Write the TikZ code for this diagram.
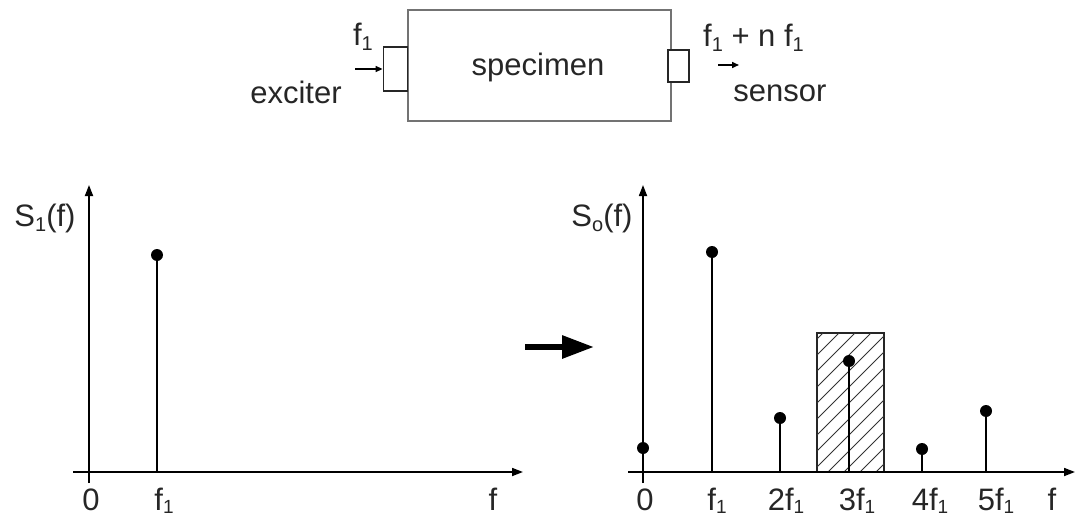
\documentclass[tikz,border=0pt]{standalone}
\usepackage{fontspec}
\setmainfont{Liberation Sans}
\usetikzlibrary{arrows.meta}
\newcommand{\lo}[1]{\raisebox{-5pt}{\fontsize{20}{20}\selectfont #1}}
\newcommand{\lob}[1]{\raisebox{-3.5pt}{\fontsize{19}{19}\selectfont #1}}
\begin{document}
\begin{tikzpicture}[x=1pt,y=-1pt,
  every node/.style={font=\fontsize{31}{34}\selectfont, inner sep=0pt, text=black!85},
  axis/.style={line width=1.7pt, -{Triangle[length=11pt,width=8pt]}},
  stem/.style={line width=1.7pt},
  dot/.style={circle, fill=black, inner sep=0pt, minimum size=12pt},
  smallarrow/.style={line width=1.5pt, -{Triangle[length=7pt,width=6pt]}},
  port/.style={draw=black!85, line width=1.8pt, fill=white}]
\useasboundingbox (0,0) rectangle (1079,519);
% ---------- top block ----------
\node[draw=black!55, line width=1.8pt, minimum width=263pt, minimum height=111pt] (spec) at (539.5,65.5) {};
\node[anchor=base] (spectxt) at (538,76) {specimen};
\node[port, minimum width=24pt, minimum height=44pt] (exc) at (395.5,69) {};
\node[port, minimum width=21pt, minimum height=32pt] (sen) at (678.5,66) {};
\coordinate (ea) at (355,69);
\draw[smallarrow] (ea) -- (exc.west);
\node[anchor=base] (f1in) at (363,46) {f\lo{1}};
\node[anchor=base] (exctxt) at (296,103) {exciter};
\coordinate (sa) at (718,65);
\coordinate (sb) at (739,65);
\draw[smallarrow] (sa) -- (sb);
\node[anchor=base west] (fout) at (703,47) {f\lo{1} + n f\lo{1}};
\node[anchor=base] (sentxt) at (780,101) {sensor};
% ---------- left spectrum ----------
\coordinate (lx0) at (73,472);
\coordinate (lx1) at (523,472);
\coordinate (ly0) at (89,483);
\coordinate (ly1) at (89,185);
\draw[axis] (lx0) -- (lx1);
\draw[axis] (ly0) -- (ly1);
\node[anchor=base] (s1) at (45,226) {S\lo{1}(f)};
\coordinate (lb1) at (157,472);
\node[dot] (ld1) at (157,255) {};
\draw[stem] (lb1) -- (ld1.center);
\node[anchor=base] (l0) at (91,510) {0};
\node[anchor=base] (lf1) at (164,510) {f\lob{1}};
\node[anchor=base] (lf) at (493,510) {f};
% ---------- big arrow ----------
\coordinate (ba) at (525,347);
\coordinate (bb) at (594,347);
\draw[line width=6pt, -{Triangle[length=32pt,width=22pt]}] (ba) -- (bb);
% ---------- right spectrum ----------
% hatched band
\node[draw=black!85, line width=1.6pt, minimum width=67pt, minimum height=139pt] (band) at (850.5,402.5) {};
\begin{scope}
\clip (817,333) rectangle (884,472);
\foreach \c in {1156,1172,...,1372} {
  \draw[line width=1pt, black!80] (\c-333,333) -- (\c-472,472);
}
\end{scope}
\coordinate (rx0) at (628,472);
\coordinate (rx1) at (1075,472);
\coordinate (ry0) at (643,483);
\coordinate (ry1) at (643,185);
\draw[axis] (rx0) -- (rx1);
\draw[axis] (ry0) -- (ry1);
\node[anchor=base] (s0) at (602,226) {S\lo{o}(f)};
% stems
\node[dot] (rd0) at (643,448) {};
\coordinate (rb1) at (712,472); \node[dot] (rd1) at (712,252) {};
\coordinate (rb2) at (780,472); \node[dot] (rd2) at (780,418) {};
\coordinate (rb3) at (849,472); \node[dot] (rd3) at (849,361) {};
\coordinate (rb4) at (922,472); \node[dot] (rd4) at (922,449) {};
\coordinate (rb5) at (986,472); \node[dot] (rd5) at (986,411) {};
\foreach \i in {1,...,5} { \draw[stem] (rb\i) -- (rd\i.center); }
\node[anchor=base] (r0) at (645,510) {0};
\node[anchor=base] (rf1) at (717,510) {f\lob{1}};
\node[anchor=base] (r2f1) at (786,510) {2f\lob{1}};
\node[anchor=base] (r3f1) at (857,510) {3f\lob{1}};
\node[anchor=base] (r4f1) at (930,510) {4f\lob{1}};
\node[anchor=base] (r5f1) at (996,510) {5f\lob{1}};
\node[anchor=base] (rf) at (1052,510) {f};
\end{tikzpicture}
\end{document}
